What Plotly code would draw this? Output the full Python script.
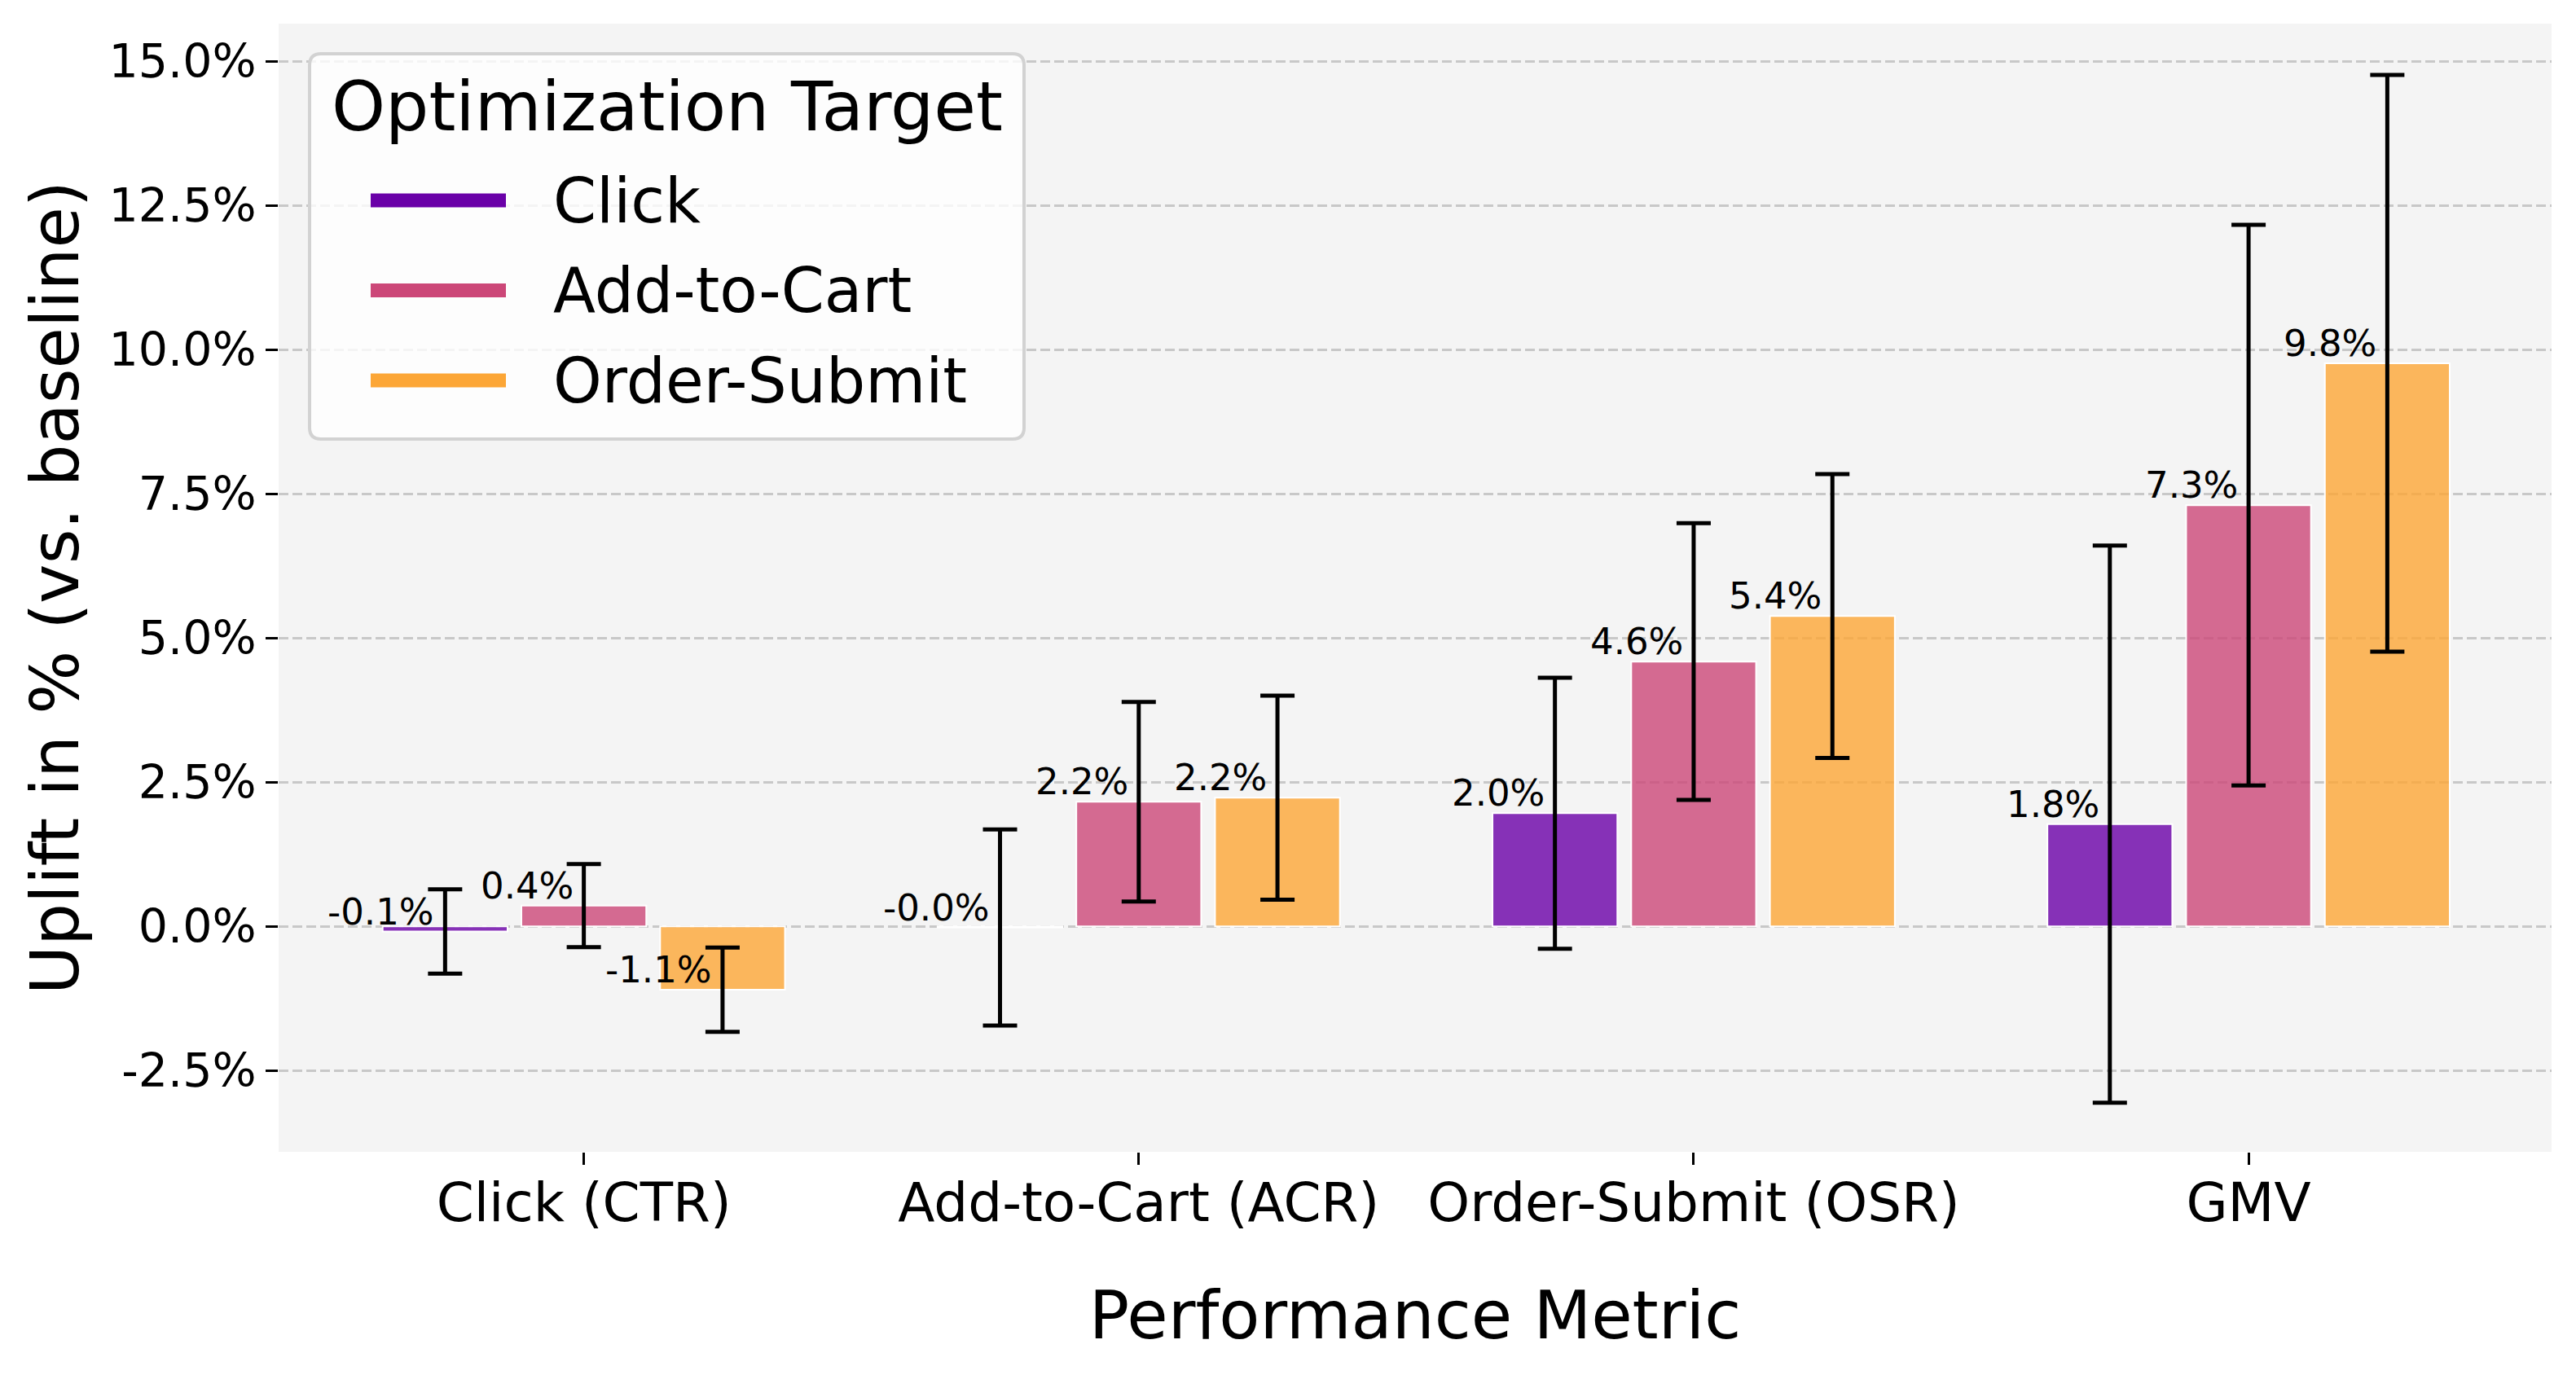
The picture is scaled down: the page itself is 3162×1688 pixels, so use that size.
import plotly.graph_objects as go

# ---- data ----
metrics = ["Click (CTR)", "Add-to-Cart (ACR)", "Order-Submit (OSR)", "GMV"]
targets = ["Click", "Add-to-Cart", "Order-Submit"]
uplift_click = [-0.09, -0.02, 1.96, 1.77]
uplift_atc = [0.36, 2.16, 4.59, 7.30]
uplift_os = [-1.10, 2.23, 5.38, 9.76]
err_click = [0.73, 1.70, 2.35, 4.83]
err_atc = [0.72, 1.73, 2.40, 4.86]
err_os = [0.73, 1.77, 2.46, 5.00]
y_ticks = [-2.5, 0.0, 2.5, 5.0, 7.5, 10.0, 12.5, 15.0]
legend_title = "Optimization Target"

# ---- style ----
line_colors = ["#6a00a8", "#cc4778", "#fca636"]
bar_fill = ["rgba(106,0,168,0.8)", "rgba(204,71,120,0.8)", "rgba(252,166,54,0.8)"]
FONT = "DejaVu Sans"
PAGE_OFF = 8  # default body margin of the html page
W, H = 3162 - 2 * PAGE_OFF, 1688 - 2 * PAGE_OFF
L, R, T, B = 342 - PAGE_OFF, 30 - PAGE_OFF, 29 - PAGE_OFF, 274 - PAGE_OFF
PW, PH = W - L - R, H - T - B


def px(x):
    # page pixel -> paper fraction
    return (x - PAGE_OFF - L) / PW


def py(y):
    return 1 - (y - PAGE_OFF - T) / PH


series = [uplift_click, uplift_atc, uplift_os]
errors = [err_click, err_atc, err_os]

fig = go.Figure()
for i, name in enumerate(targets):
    fig.add_trace(go.Bar(
        x=metrics, y=series[i], name=name, showlegend=False,
        marker=dict(color=bar_fill[i], line=dict(color="white", width=2)),
        error_y=dict(type="data", array=errors[i], visible=True,
                     color="black", thickness=5, width=21),
    ))

# value labels
offsets = [-0.25, 0.0, 0.25]
for i in range(len(targets)):
    for j, v in enumerate(series[i]):
        fig.add_annotation(
            x=j + offsets[i], y=v, xref="x", yref="y",
            text=f"{v:.1f}%", showarrow=False,
            xanchor="right", yanchor="bottom", xshift=-11, yshift=-4,
            font=dict(family=FONT, size=45, color="black"),
        )

# ---- legend (drawn manually to match line-style handles) ----
bx0, bx1, by0, by1, rad = 380, 1257, 66, 539, 14
x0, x1, y0, y1 = px(bx0), px(bx1), py(by0), py(by1)
rx, ry = rad / PW, rad / PH
path = (f"M {x0+rx},{y0} L {x1-rx},{y0} Q {x1},{y0} {x1},{y0-ry} "
        f"L {x1},{y1+ry} Q {x1},{y1} {x1-rx},{y1} "
        f"L {x0+rx},{y1} Q {x0},{y1} {x0},{y1+ry} "
        f"L {x0},{y0-ry} Q {x0},{y0} {x0+rx},{y0} Z")
fig.add_shape(type="path", path=path, xref="paper", yref="paper",
              fillcolor="rgba(255,255,255,0.8)", line=dict(color="#d2d2d2", width=4),
              layer="above")
fig.add_annotation(x=px((bx0 + bx1) / 2), y=py(131), xref="paper", yref="paper",
                   text=legend_title, showarrow=False, xanchor="center", yanchor="middle",
                   font=dict(family=FONT, size=84, color="black"))
item_y = [246, 356.5, 467]
for i, name in enumerate(targets):
    fig.add_shape(type="line", xref="paper", yref="paper",
                  x0=px(455), x1=px(621), y0=py(item_y[i]), y1=py(item_y[i]),
                  line=dict(color=line_colors[i], width=17), layer="above")
    fig.add_annotation(x=px(677), y=py(item_y[i]), xref="paper", yref="paper",
                       text=name, showarrow=False, xanchor="left", yanchor="middle",
                       font=dict(family=FONT, size=76, color="black"))

fig.update_layout(
    width=W, height=H,
    margin=dict(l=L, r=R, t=T, b=B, autoexpand=False),
    paper_bgcolor="white", plot_bgcolor="#f4f4f4",
    barmode="group", bargap=0.25, bargroupgap=0.1,
    font=dict(family=FONT, color="black"),
    showlegend=False,
)

fig.update_xaxes(
    range=[-0.55, 3.546], showgrid=False, zeroline=False, showline=False,
    ticks="outside", ticklen=15, tickwidth=3, tickcolor="black",
    tickfont=dict(size=66, family=FONT), ticklabelstandoff=-10,
    title=dict(text="Performance Metric", font=dict(size=82, family=FONT), standoff=71),
)
fig.update_yaxes(
    range=[-3.91, 15.65], tickvals=y_ticks, ticktext=[f"{t:.1f}%" for t in y_ticks],
    showgrid=True, gridcolor="#c8c8c8", gridwidth=3.3, griddash="12px,5px",
    zeroline=False, showline=False,
    ticks="outside", ticklen=15, tickwidth=3, tickcolor="black",
    tickfont=dict(size=57, family=FONT),
    title=dict(text="Uplift in % (vs. baseline)", font=dict(size=82, family=FONT), standoff=9),
)

fig.write_html("out.html")
